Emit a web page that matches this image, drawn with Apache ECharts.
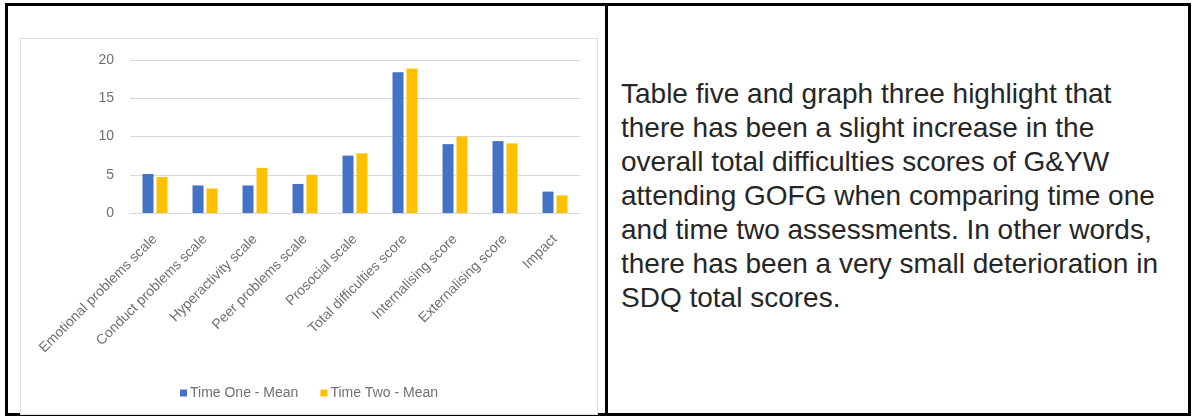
<!DOCTYPE html>
<html>
<head>
<meta charset="utf-8">
<script src="https://cdn.jsdelivr.net/npm/echarts@6/dist/echarts.min.js"></script>
<style>
  html, body { margin: 0; padding: 0; background: #fff; }
  body { width: 1196px; height: 417px; position: relative; overflow: hidden; }
  .frame { position: absolute; left: 5px; top: 3px; width: 1186px; height: 413px;
           border: 3px solid #000; box-sizing: border-box; }
  .divider { position: absolute; left: 605px; top: 3px; width: 3px; height: 413px; background: #000; }
  .chartbox { position: absolute; left: 20px; top: 38px; width: 578px; height: 377px;
              border: 1px solid #dedede; box-sizing: border-box; background: #fff; }
  #chart { width: 576px; height: 375px; filter: blur(0.5px); }
  .note { position: absolute; left: 621px; top: 77px; font-family: "Liberation Sans", Arial, sans-serif;
          font-size: 28px; line-height: 34px; color: #262626; white-space: nowrap; }
</style>
</head>
<body>
<div class="frame"></div>
<div class="divider"></div>
<div class="chartbox"><div id="chart"></div></div>
<div class="note">
Table five and graph three highlight that<br>
there has been a slight increase in the<br>
overall total difficulties scores of G&amp;YW<br>
attending GOFG when comparing time one<br>
and time two assessments. In other words,<br>
there has been a very small deterioration in<br>
SDQ total scores.
</div>
<script>
// SDQ subscale means at the two assessment points
const categories = [
  'Emotional problems scale',
  'Conduct problems scale',
  'Hyperactivity scale',
  'Peer problems scale',
  'Prosocial scale',
  'Total difficulties score',
  'Internalising score',
  'Externalising score',
  'Impact'
];
const timeOneMean = [5.1, 3.6, 3.6, 3.8, 7.5, 18.4, 9.0, 9.4, 2.8];
const timeTwoMean = [4.7, 3.2, 5.9, 5.0, 7.8, 18.9, 10.0, 9.1, 2.3];
const seriesNames = ['Time One - Mean', 'Time Two - Mean'];
const yMin = 0, yMax = 20, yStep = 5;

const labelFont = { fontFamily: 'Liberation Sans, Arial, sans-serif', fontSize: 14, color: '#707070' };

const chart = echarts.init(document.getElementById('chart'), null, { renderer: 'canvas' });
chart.setOption({
  animation: false,
  color: ['#4472C4', '#FFC000'],
  grid: { left: 109, right: 17, top: 21, bottom: 201, containLabel: false },
  legend: {
    bottom: 9,
    left: 'center',
    itemWidth: 7,
    itemHeight: 7,
    itemGap: 22,
    icon: 'rect',
    textStyle: Object.assign({}, labelFont, { padding: [0, 0, 0, -2] }),
    data: seriesNames
  },
  xAxis: {
    type: 'category',
    data: categories,
    axisLine: { lineStyle: { color: '#d9d9d9' } },
    axisTick: { show: false },
    axisLabel: Object.assign({}, labelFont, { rotate: 45, margin: 24, interval: 0 })
  },
  yAxis: {
    type: 'value',
    min: yMin,
    max: yMax,
    interval: yStep,
    axisLine: { show: false },
    axisTick: { show: false },
    splitLine: { lineStyle: { color: '#d9d9d9' } },
    axisLabel: Object.assign({}, labelFont, { margin: 16 })
  },
  series: [
    { name: seriesNames[0], type: 'bar', data: timeOneMean, barWidth: 11, barGap: '27%' },
    { name: seriesNames[1], type: 'bar', data: timeTwoMean, barWidth: 11, barGap: '27%' }
  ]
});
</script>
</body>
</html>
